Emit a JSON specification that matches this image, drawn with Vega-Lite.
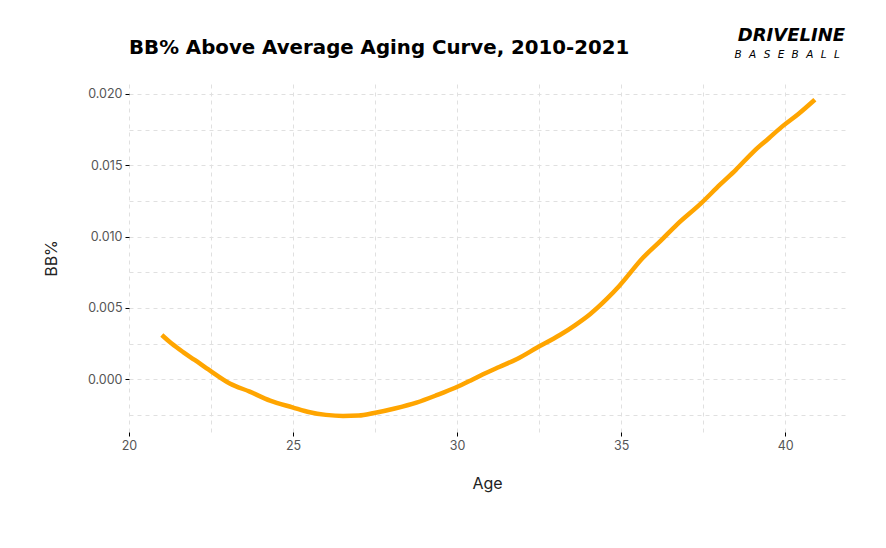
{
  "$schema": "https://vega.github.io/schema/vega-lite/v6.json",
  "width": 716,
  "height": 348,
  "autosize": "none",
  "padding": {"left": 129, "top": 84, "right": 41, "bottom": 116},
  "background": "white",
  "title": {
    "text": "BB% Above Average Aging Curve, 2010-2021",
    "anchor": "start",
    "frame": "group",
    "baseline": "alphabetic",
    "offset": 31,
    "dy": 78,
    "font": "DejaVu Sans",
    "fontSize": 19.8,
    "fontWeight": "bold",
    "color": "#000000"
  },
  "config": {
    "view": {"stroke": null},
    "axis": {
      "domain": false,
      "gridColor": "#e0e0e0",
      "gridDash": [4, 4],
      "gridWidth": 1,
      "labelFont": "Inter",
      "labelFontSize": 12.5,
      "labelColor": "#555555",
      "labelFlush": false,
      "labelOverlap": false,
      "titleFont": "Inter",
      "titleFontSize": 16,
      "titleFontWeight": "normal",
      "titleColor": "#222222",
      "tickSize": 4,
      "labelPadding": 3
    }
  },
  "datasets": {
    "curve": [
      {"age": 21.0, "bb": 0.0031},
      {"age": 21.3, "bb": 0.0025},
      {"age": 21.65, "bb": 0.0019},
      {"age": 22.0, "bb": 0.00135},
      {"age": 22.47, "bb": 0.0006},
      {"age": 23.07, "bb": -0.0003},
      {"age": 23.68, "bb": -0.00087},
      {"age": 24.3, "bb": -0.0015},
      {"age": 24.98, "bb": -0.00197},
      {"age": 25.51, "bb": -0.00232},
      {"age": 26.0, "bb": -0.0025},
      {"age": 26.52, "bb": -0.00258},
      {"age": 27.0, "bb": -0.00255},
      {"age": 27.47, "bb": -0.00237},
      {"age": 28.1, "bb": -0.00205},
      {"age": 28.76, "bb": -0.00164},
      {"age": 29.4, "bb": -0.0011},
      {"age": 29.94, "bb": -0.0006},
      {"age": 30.4, "bb": -0.0001},
      {"age": 30.79, "bb": 0.00035},
      {"age": 31.3, "bb": 0.00088},
      {"age": 31.81, "bb": 0.0014},
      {"age": 32.44, "bb": 0.00222},
      {"age": 33.13, "bb": 0.0031},
      {"age": 33.6, "bb": 0.0038},
      {"age": 34.05, "bb": 0.00456},
      {"age": 34.56, "bb": 0.00563},
      {"age": 34.94, "bb": 0.00654},
      {"age": 35.67, "bb": 0.00853},
      {"age": 36.2, "bb": 0.0097},
      {"age": 36.69, "bb": 0.01083},
      {"age": 37.44, "bb": 0.01235},
      {"age": 38.01, "bb": 0.01364},
      {"age": 38.5, "bb": 0.0147},
      {"age": 39.02, "bb": 0.01593},
      {"age": 39.5, "bb": 0.0169},
      {"age": 39.91, "bb": 0.01773},
      {"age": 40.4, "bb": 0.0186},
      {"age": 40.9, "bb": 0.0196}
    ],
    "logo": [
      {"word": "DRIVELINE"}
    ],
    "logo2": [
      {"word": "B  A  S  E  B  A  L  L"}
    ]
  },
  "layer": [
    {
      "data": {"name": "curve"},
      "mark": {"type": "line", "color": "#FFA500", "strokeWidth": 4.5, "interpolate": "monotone"},
      "encoding": {
        "x": {
          "field": "age",
          "type": "quantitative",
          "scale": {"domain": [20, 41.82], "nice": false, "zero": false},
          "axis": {
            "title": "Age",
            "values": [20, 22.5, 25, 27.5, 30, 32.5, 35, 37.5, 40],
            "tickCount": 40,
            "labelExpr": "datum.value % 5 == 0 ? format(datum.value, 'd') : ''",
            "tickColor": {"condition": {"test": "datum.value % 5 == 0", "value": "#000000"}, "value": "transparent"},
            "titlePadding": 24
          }
        },
        "y": {
          "field": "bb",
          "type": "quantitative",
          "scale": {"domain": [-0.0037, 0.0207], "nice": false, "zero": false},
          "axis": {
            "title": "BB%",
            "values": [-0.0025, 0, 0.0025, 0.005, 0.0075, 0.01, 0.0125, 0.015, 0.0175, 0.02],
            "tickCount": 40,
            "labelExpr": "abs(round(datum.value / 0.0025)) % 2 == 0 ? format(datum.value, '.3f') : ''",
            "tickColor": {"condition": {"test": "abs(round(datum.value / 0.0025)) % 2 == 0", "value": "#000000"}, "value": "transparent"},
            "titlePadding": 28
          }
        }
      }
    },
    {
      "data": {"name": "logo"},
      "mark": {"type": "text", "align": "right", "baseline": "alphabetic", "font": "DejaVu Sans", "fontSize": 18, "fontWeight": "bold", "fontStyle": "italic", "color": "#000000", "clip": false},
      "encoding": {
        "x": {"datum": 41.82, "type": "quantitative"},
        "y": {"datum": 0.02372, "type": "quantitative"},
        "text": {"field": "word"}
      }
    },
    {
      "data": {"name": "logo2"},
      "mark": {"type": "text", "align": "right", "baseline": "alphabetic", "font": "DejaVu Sans", "fontSize": 10.5, "fontWeight": "normal", "fontStyle": "italic", "color": "#000000", "clip": false},
      "encoding": {
        "x": {"datum": 41.66, "type": "quantitative"},
        "y": {"datum": 0.02252, "type": "quantitative"},
        "text": {"value": "B\u2002\u2009A\u2002\u2009S\u2002\u2009E\u2002\u2009B\u2002\u2009A\u2002\u2009L\u2002\u2009L"}
      }
    }
  ]
}
